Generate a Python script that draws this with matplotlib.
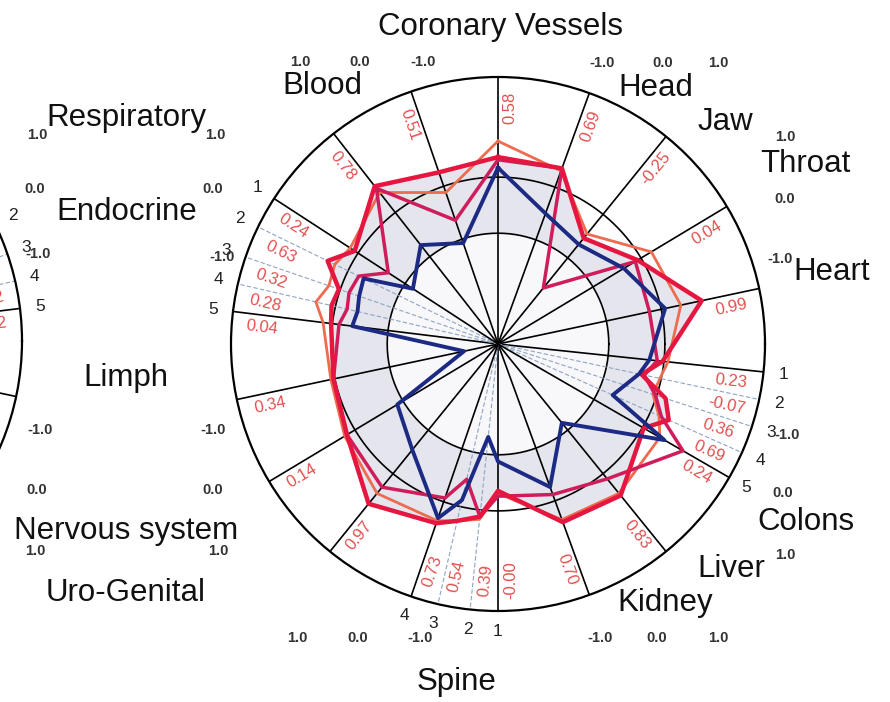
import numpy as np
import matplotlib.pyplot as plt

plt.rcParams['font.family'] = ['Liberation Sans', 'DejaVu Sans']

# chart axes, degrees counter-clockwise from east (clockwise order from the top)
axis_deg = [90, 70, 51, 31, 12, -6, -12, -18, -24, -30, -51, -70,
            -90, -96, -103, -109, -129, -149, -168,
            173, 167, 161, 154, 147, 128, 109]
axis_solid = [1, 1, 1, 1, 1, 1, 0, 0, 0, 1, 1, 1,
              1, 0, 0, 1, 1, 1, 1,
              1, 0, 0, 0, 1, 1, 1]
value_labels = ['0.58', '0.69', '-0.25', '0.04', '0.99', '0.23', '-0.07', '0.36', '0.69', '0.24',
                '0.83', '0.70', '-0.00', '0.39', '0.54', '0.73', '0.97', '0.14', '0.34',
                '0.04', '0.28', '0.32', '0.63', '0.24', '0.78', '0.51']
sub_numbers = ['', '', '', '', '', '1', '2', '3', '4', '5', '', '',
               '1', '2', '3', '4', '', '', '',
               '5', '4', '3', '2', '1', '', '']

# series (radius, outer circle = 1)
blue = [0.66, 0.52, 0.48, 0.55, 0.64, 0.57, 0.54, 0.50, 0.47, 0.72, 0.38, 0.57,
        0.44, 0.35, 0.60, 0.69, 0.51, 0.44, 0.13,
        0.55, 0.54, 0.55, 0.56, 0.38, 0.47, 0.40]
crimson = [0.70, 0.70, 0.51, 0.61, 0.78, 0.62, 0.55, 0.66, 0.70, 0.63, 0.73, 0.71,
           0.55, 0.65, 0.68, 0.71, 0.77, 0.66, 0.63,
           0.63, 0.64, 0.63, 0.71, 0.64, 0.75, 0.68]
magenta = [0.69, 0.70, 0.27, 0.60, 0.58, 0.60, 0.56, 0.62, 0.67, 0.80, 0.65, 0.60,
           0.57, 0.65, 0.52, 0.61, 0.69, 0.66, 0.63,
           0.60, 0.58, 0.59, 0.58, 0.49, 0.74, 0.49]
orange = [0.76, 0.69, 0.53, 0.67, 0.70, 0.64, 0.62, 0.61, 0.66, 0.70, 0.72, 0.70,
          0.56, 0.66, 0.68, 0.70, 0.72, 0.67, 0.64,
          0.66, 0.70, 0.67, 0.68, 0.66, 0.72, 0.60]

# neighbouring chart (mirrored), only its right edge shows
left_axis_deg = [180 - a for a in axis_deg]
left_numbers = ['', '', '', '', '', '', '', '', '', '', '', '', '', '', '', '', '', '', '',
                '5', '4', '3', '2', '1', '', '']
left_values = ['', '', '', '', '', '', '', '', '', '', '', '', '', '', '', '', '', '', '0.25',
               '0.32', '0.12', '', '', '', '', '']

W, H = 890, 702
R = 267
RED = '#e2504f'


def polar_axes(cx, cy):
    a = fig.add_axes([(cx - R) / W, (H - cy - R) / H, 2 * R / W, 2 * R / H], projection='polar')
    a.set_ylim(0, 1)
    a.set_xticks([])
    a.set_yticks([])
    a.grid(False)
    a.set_facecolor('none')
    a.spines['polar'].set_linewidth(1.6)
    return a


def draw_axes(a, angles, solid, labels, numbers):
    for ang, s, lab, num in zip(angles, solid, labels, numbers):
        th = np.deg2rad(ang)
        if s:
            a.plot([th, th], [0, 1], color='black', lw=1.2, zorder=2)
        else:
            a.plot([th, th], [0, 1], color='#8ea5c3', lw=0.8, ls=(0, (4, 2)), zorder=2)
        d = ((ang + 180) % 360) - 180
        if -90 < d <= 90:
            pos, rot = d - 3, d
        else:
            pos, rot = d + 3, d + 180
        rot = ((rot + 180) % 360) - 180
        if lab:
            a.text(np.deg2rad(pos), 0.885, lab, color=RED, fontsize=12, rotation=rot,
                   rotation_mode='anchor', ha='center', va='center', clip_on=False)
        if num:
            a.text(th, 1.075, num, fontsize=12.5, color='#222222',
                   ha='center', va='center', clip_on=False)


fig = plt.figure(figsize=(W / 100, H / 100), dpi=100)

# main chart
ax = polar_axes(498, 344)
theta = np.deg2rad(axis_deg + axis_deg[:1])
full = np.linspace(0, 2 * np.pi, 361)

ax.fill(theta, crimson + crimson[:1], color='#e5e5ee', zorder=0)
ax.fill(full, np.full_like(full, 0.415), color='#f8f8fb', zorder=0.5)
for rr in (0.415, 0.625):
    ax.plot(full, np.full_like(full, rr), color='black', lw=1.2, zorder=2)
draw_axes(ax, axis_deg, axis_solid, value_labels, sub_numbers)

ax.plot(theta, orange + orange[:1], color='#ef6b4f', lw=2.0, zorder=3)
ax.plot(theta, magenta + magenta[:1], color='#cf1d5c', lw=2.5, zorder=4)
ax.plot(theta, crimson + crimson[:1], color='#e5163f', lw=3.2, zorder=5)
ax.plot(theta, blue + blue[:1], color='#1c2a84', lw=2.8, zorder=6)

# left neighbour chart
ax2 = polar_axes(-245, 341)
draw_axes(ax2, left_axis_deg, axis_solid, left_values, left_numbers)

# category names
names = [('Coronary Vessels', 500, 27), ('Blood', 322, 86), ('Head', 656, 88),
         ('Jaw', 725, 122), ('Throat', 805, 164), ('Heart', 832, 272),
         ('Colons', 806, 522), ('Liver', 731, 569), ('Kidney', 665, 603),
         ('Spine', 457, 682), ('Respiratory', 126, 118), ('Endocrine', 127, 212),
         ('Limph', 126, 378), ('Nervous system', 126, 531), ('Uro-Genital', 126, 593)]
for s, x, y in names:
    fig.text(x / W, 1 - y / H, s, fontsize=22.5, ha='center', va='center', color='#111111')

# scale marks
ticks = [('1.0', 300, 62), ('0.0', 360, 62), ('-1.0', 423, 62),
         ('-1.0', 602, 63), ('0.0', 663, 63), ('1.0', 718, 63),
         ('1.0', 785, 137), ('0.0', 785, 199), ('-1.0', 780, 259),
         ('-1.0', 787, 435), ('0.0', 783, 493), ('1.0', 785, 555),
         ('-1.0', 600, 638), ('0.0', 657, 638), ('1.0', 718, 638),
         ('1.0', 297, 638), ('0.0', 358, 638), ('-1.0', 420, 638),
         ('1.0', 37, 135), ('1.0', 215, 135), ('0.0', 35, 189), ('0.0', 213, 189),
         ('-1.0', 222, 257), ('-1.0', 38, 254),
         ('-1.0', 40, 430), ('-1.0', 213, 430), ('0.0', 37, 490), ('0.0', 213, 490),
         ('1.0', 35, 551), ('1.0', 218, 551)]
for s, x, y in ticks:
    fig.text(x / W, 1 - y / H, s, fontsize=10.5, fontweight='bold', ha='center', va='center',
             color='#333333')

fig.savefig('out.png', dpi=100)
